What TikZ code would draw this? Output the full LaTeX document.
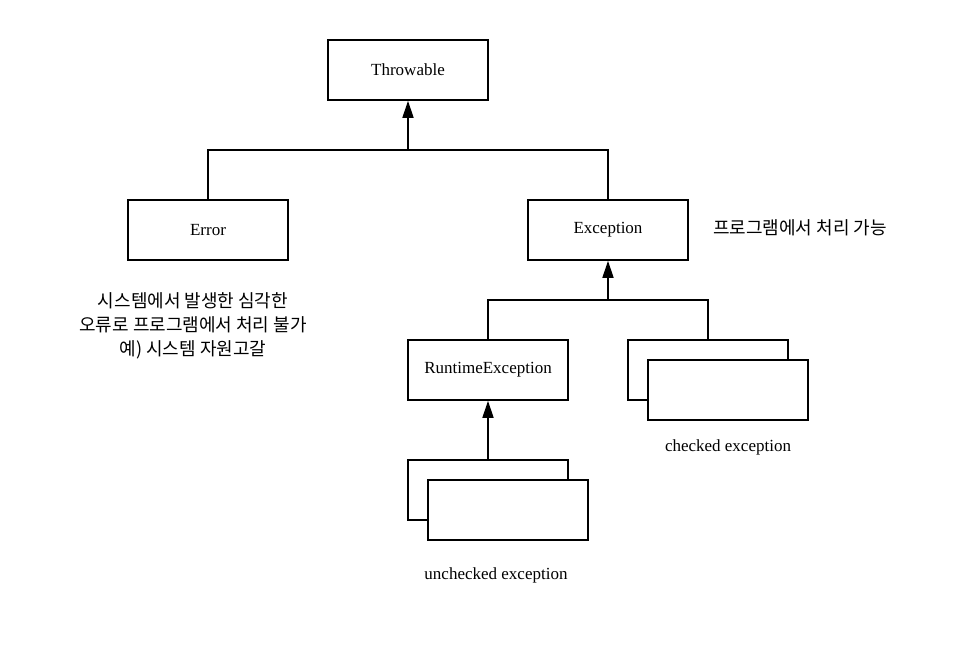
\documentclass[tikz,border=0pt]{standalone}
\usepackage{fontspec}
\setmainfont{Liberation Serif}
\newfontfamily\kofont{Noto Sans CJK KR}
\usetikzlibrary{arrows.meta}
\tikzset{
  classbox/.style={draw, line width=1.6pt, fill=white, minimum width=160pt, minimum height=60pt, inner sep=0pt, font=\fontsize{17}{20}\selectfont},
  link/.style={line width=1.6pt},
  inherit/.style={line width=1.6pt, -{Triangle[width=11pt,length=17pt]}},
  note/.style={font=\kofont\fontsize{18}{24}\selectfont, align=center},
  caption/.style={font=\fontsize{17}{20}\selectfont}
}
\begin{document}
\begin{tikzpicture}[x=1pt, y=-1pt]
    \useasboundingbox (0,0) rectangle (960,655);
    % class boxes
    \node[classbox] (throwable) at (408,70) {Throwable};
    \node[classbox] (error) at (208,230) {Error};
    \node[classbox] (exception) at (608,230) {Exception};
    \node[classbox] (runtime) at (488,370) {RuntimeException};
    \node[classbox] (checkedback) at (708,370) {};
    \node[classbox] (checkedfront) at (728,390) {};
    \node[classbox] (uncheckedback) at (488,490) {};
    \node[classbox] (uncheckedfront) at (508,510) {};
    % notes
    \node[note] (exceptionnote) at (800,228) {프로그램에서 처리 가능};
    \node[note] (errornote) at (193,326) {시스템에서 발생한 심각한\\오류로 프로그램에서 처리 불가\\예) 시스템 자원고갈};
    \node[caption] (checkedtext) at (728,447) {checked exception};
    \node[caption] (uncheckedtext) at (496,575) {unchecked exception};
    % connectors
    \coordinate (topjoin) at (408,150);
    \coordinate (excjoin) at (608,300);
    \draw[link] (error.north) |- (topjoin) -| (exception.north);
    \draw[inherit] (topjoin) -- (throwable.south);
    \draw[link] (runtime.north) |- (excjoin) -| (checkedback.north);
    \draw[inherit] (excjoin) -- (exception.south);
    \draw[inherit] (uncheckedback.north) -- (runtime.south);
\end{tikzpicture}
\end{document}
